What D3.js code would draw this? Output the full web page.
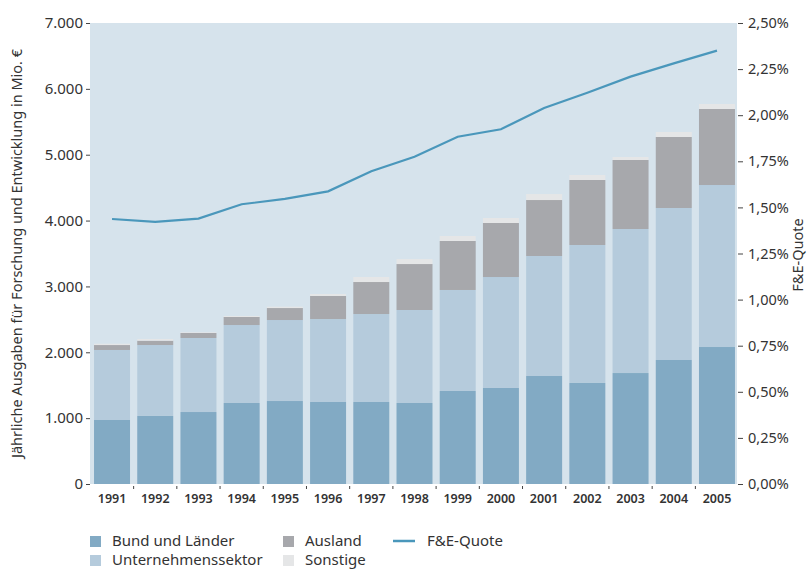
<!DOCTYPE html>
<html><head><meta charset="utf-8">
<script src="https://cdn.jsdelivr.net/npm/d3@7"></script>
<style>
body{margin:0;background:#fff;}
text{font-family:"Noto Sans","Open Sans",sans-serif;fill:#333;}
</style></head>
<body><svg id="c" width="810" height="570"></svg>
<script>
const years = ["1991","1992","1993","1994","1995","1996","1997","1998","1999","2000","2001","2002","2003","2004","2005"];
const bund = [972,1033,1093,1230,1260,1245,1245,1230,1412,1458,1640,1534,1685,1883,2080];
const unternehmen = [1063,1077,1124,1184,1230,1260,1336,1412,1534,1685,1822,2095,2187,2308,2460];
const ausland = [75,66,76,122,182,350,486,698,744,820,850,987,1048,1078,1154];
const sonstige = [20,26,10,15,20,30,76,76,76,76,91,76,45,76,76];
const quote = [1.437,1.422,1.439,1.517,1.546,1.587,1.696,1.775,1.883,1.924,2.039,2.122,2.209,2.281,2.350];
const leftTicks = [0,1000,2000,3000,4000,5000,6000,7000];
const leftTickLabels = ["0","1.000","2.000","3.000","4.000","5.000","6.000","7.000"];
const rightTicks = [0,0.25,0.5,0.75,1,1.25,1.5,1.75,2,2.25,2.5];
const rightTickLabels = ["0,00%","0,25%","0,50%","0,75%","1,00%","1,25%","1,50%","1,75%","2,00%","2,25%","2,50%"];
const seriesNames = ["Bund und Länder","Unternehmenssektor","Ausland","Sonstige"];
const colors = ["#82aac4","#b5cbdc","#a7a8ac","#e5e6e7"];
const lineColor = "#4a97bb";

const svg = d3.select("#c");
const L = 90, R = 737, T = 23, B = 484;

svg.append("rect").attr("x",L).attr("y",T).attr("width",R-L).attr("height",B-T).attr("fill","#d6e3ec");

const x = d3.scaleBand().domain(years).range([L+1, R+1]).paddingInner(0.167).paddingOuter(0.07);
const y = d3.scaleLinear().domain([0,7000]).range([B,T]);
const y2 = d3.scaleLinear().domain([0,2.5]).range([B,T]);

const rows = years.map((yr,i)=>({year:yr, s0:bund[i], s1:unternehmen[i], s2:ausland[i], s3:sonstige[i]}));
const stack = d3.stack().keys(["s0","s1","s2","s3"])(rows);

svg.append("g").selectAll("g").data(stack).join("g").attr("fill",(d,i)=>colors[i])
  .selectAll("rect").data(d=>d).join("rect")
  .attr("x",d=>x(d.data.year)).attr("width",x.bandwidth())
  .attr("y",d=>y(d[1])).attr("height",d=>y(d[0])-y(d[1]));

// line
const line = d3.line().x((d,i)=>x(years[i])+x.bandwidth()/2).y(d=>y2(d));
svg.append("path").datum(quote).attr("d",line).attr("fill","none").attr("stroke",lineColor).attr("stroke-width",2.2);

// left axis
const la = svg.append("g").attr("transform",`translate(${L},0)`)
  .call(d3.axisLeft(y).tickValues(leftTicks).tickFormat((d,i)=>leftTickLabels[i]).tickSize(4).tickPadding(3));
la.select(".domain").remove();
la.selectAll("line").attr("stroke","#444");
la.selectAll("text").style("font-size","15px").attr("fill","#333");

// right axis
const ra = svg.append("g").attr("transform",`translate(${R+1},0)`)
  .call(d3.axisRight(y2).tickValues(rightTicks).tickFormat((d,i)=>rightTickLabels[i]).tickSize(5).tickPadding(5));
ra.select(".domain").remove();
ra.selectAll("line").attr("stroke","#444");
ra.selectAll("text").style("font-size","14.5px").attr("fill","#333");

// bottom axis
const ba = svg.append("g").attr("transform",`translate(0,${B})`)
  .call(d3.axisBottom(x).tickSize(0).tickPadding(10));
ba.select(".domain").remove();
ba.selectAll("text").style("font-size","12.5px").style("font-weight","600").attr("fill","#333");
const step = x.step();
svg.append("g").selectAll("line").data(years.slice(1)).join("line")
  .attr("x1",d=>x(d)-step*x.paddingInner()/2).attr("x2",d=>x(d)-step*x.paddingInner()/2)
  .attr("y1",B+2).attr("y2",B+5).attr("stroke","#444");

// axis titles
svg.append("text").attr("transform",`translate(22,${(T+B)/2}) rotate(-90)`).attr("text-anchor","middle")
  .style("font-size","14.5px").text("Jährliche Ausgaben für Forschung und Entwicklung in Mio. €");
svg.append("text").attr("transform",`translate(803,255) rotate(-90)`).attr("text-anchor","middle")
  .style("font-size","14.5px").text("F&E-Quote");

// legend
const leg = svg.append("g");
const legItems = [
  {name:seriesNames[0], color:colors[0], x:90, y:541, type:"sq"},
  {name:seriesNames[1], color:colors[1], x:90, y:560, type:"sq"},
  {name:seriesNames[2], color:colors[2], x:283, y:541, type:"sq"},
  {name:seriesNames[3], color:colors[3], x:283, y:560, type:"sq"},
  {name:"F&E-Quote", color:lineColor, x:393, y:541, type:"line"}
];
legItems.forEach(it=>{
  if(it.type==="sq"){
    leg.append("rect").attr("x",it.x).attr("y",it.y-5).attr("width",11).attr("height",11).attr("fill",it.color);
    leg.append("text").attr("x",it.x+22).attr("y",it.y).attr("dy","0.35em").style("font-size","15px").text(it.name);
  } else {
    leg.append("line").attr("x1",it.x).attr("x2",it.x+22).attr("y1",it.y).attr("y2",it.y).attr("stroke",it.color).attr("stroke-width",2.5);
    leg.append("text").attr("x",it.x+34).attr("y",it.y).attr("dy","0.35em").style("font-size","15px").text(it.name);
  }
});
</script></body></html>
